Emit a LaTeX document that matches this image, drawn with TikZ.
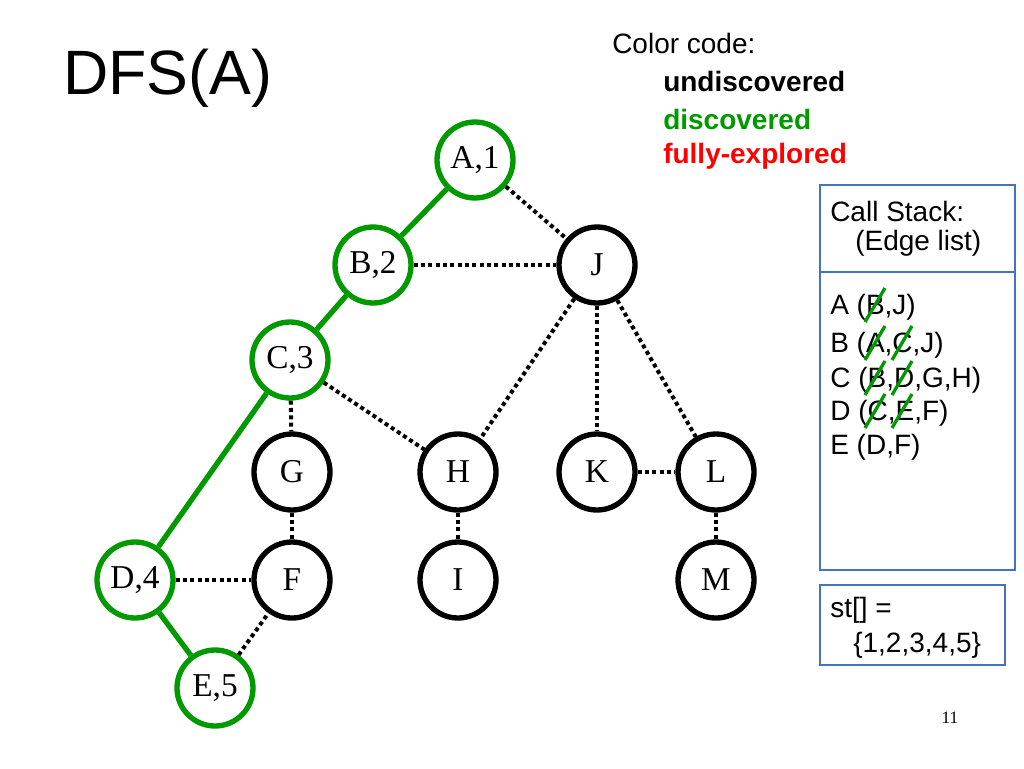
\documentclass[tikz,border=0pt]{standalone}
\usepackage{fontspec}
\setmainfont{Liberation Sans}
\newfontfamily\tms{Liberation Serif}
\definecolor{gr}{RGB}{0,153,0}
\definecolor{rd}{RGB}{255,0,0}
\definecolor{bx}{RGB}{68,114,196}
\begin{document}
\begin{tikzpicture}[x=0.75pt,y=-0.75pt,
 v/.style={circle,draw=black,line width=4pt,minimum size=57pt,inner sep=0pt,fill=white,font=\tms\fontsize{25}{25}\selectfont},
 g/.style={v,draw=gr},
 te/.style={gr,line width=4pt},
 de/.style={black,line width=3pt,dash pattern=on 3pt off 2.5pt},
 t/.style={font=\fontsize{21}{24}\selectfont,anchor=west,inner sep=0pt}]
\useasboundingbox (0,0) rectangle (1024,768);
\node[g] (A) at (475,160) {A,1};
\node[v] (J) at (597,265) {J};
\node[g] (B) at (373,265) {B,2};
\node[g] (C) at (290,360) {C,3};
\node[v] (G) at (292,472) {G};
\node[v] (H) at (458,472) {H};
\node[v] (K) at (597,472) {K};
\node[v] (L) at (716,472) {L};
\node[g] (D) at (135,580) {D,4};
\node[v] (F) at (292,580) {F};
\node[v] (I) at (458,580) {I};
\node[v] (M) at (716,580) {M};
\node[g] (E) at (215,688) {E,5};
\draw[te] (A) -- (B); \draw[te] (B) -- (C); \draw[te] (C) -- (D); \draw[te] (D) -- (E);
\foreach \a/\b in {A/J,B/J,C/H,C/G,J/H,J/K,J/L,K/L,G/F,H/I,L/M,D/F,E/F} \draw[de] (\a) -- (\b);
\node[anchor=west,inner sep=0pt,font=\fontsize{47}{47}\selectfont] (title) at (63,78) {DFS(A)};
\node[t] (cc) at (612,43) {Color code:};
\node[t] (u) at (663,81) {\bfseries undiscovered};
\node[t,text=gr] (d) at (663,119) {\bfseries discovered};
\node[t,text=rd] (f) at (663,156) {\bfseries fully-explored};
\draw[bx,line width=1pt] (820,185) rectangle (1015,570);
\draw[bx,line width=1pt] (820,272) -- (1015,272);
\node[t] (cs1) at (830,211) {Call Stack:};
\node[t] (cs2) at (855,243) {(Edge list)};
\node[t] (s1) at (830,307) {A (B,J)};
\node[t] (s2) at (830,345) {B (A,C,J)};
\node[t] (s3) at (830,380) {C (B,D,G,H)};
\node[t] (s4) at (830,413) {D (C,E,F)};
\node[t] (s5) at (830,447) {E (D,F)};
\foreach \x/\y in {874/307,874/345,901/345,874/380,901/380,874/413,901/413}
 \draw[gr,line width=2.5pt] (\x-9,\y+15) -- (\x+11,\y-19);
\draw[bx,line width=1pt] (820,585) rectangle (1005,665);
\node[t] (st1) at (830,610) {st[] =};
\node[t] (st2) at (853,645) {\{1,2,3,4,5\}};
\node[font=\tms\fontsize{13}{13}\selectfont] (pg) at (950,718) {11};
\end{tikzpicture}
\end{document}
